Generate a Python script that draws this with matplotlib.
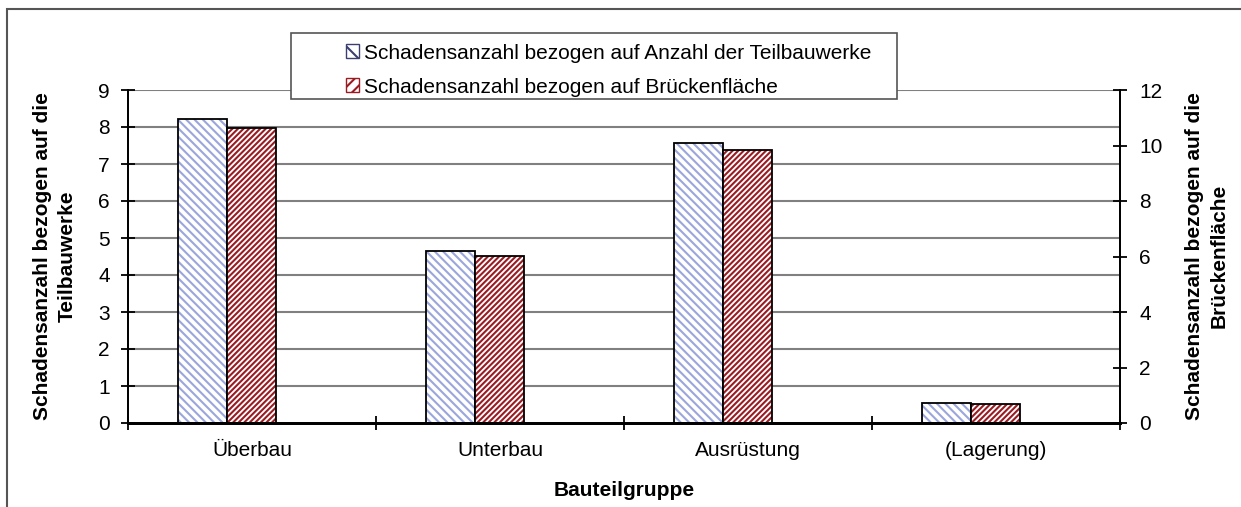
import numpy as np
import matplotlib
matplotlib.use('Agg')
import matplotlib.pyplot as plt
from matplotlib.patches import Patch, Rectangle

plt.rcParams['font.family'] = ['Liberation Sans', 'DejaVu Sans']
plt.rcParams['hatch.linewidth'] = 1.5

# data
categories = ['Überbau', 'Unterbau', 'Ausrüstung', '(Lagerung)']
per_teilbauwerk = [8.21, 4.64, 7.58, 0.54]     # left axis
per_flaeche = [10.64, 6.03, 9.82, 0.68]        # right axis
label_teil = 'Schadensanzahl bezogen auf Anzahl der Teilbauwerke'
label_flaeche = 'Schadensanzahl bezogen auf Brückenfläche'

blue = '#9aa6dc'
red = '#9b1b22'
fs = 15

W, H = 1241, 507
fig = plt.figure(figsize=(W / 100, H / 100), dpi=100)
ax = fig.add_axes([128 / W, 1 - 423 / H, 992 / W, 333 / H])
ax2 = ax.twinx()

x = np.arange(len(categories))
bw = 0.198

# hatched fill first, black outline on top
ax.bar(x - bw / 2 - 0.1, per_teilbauwerk, bw, facecolor='white', edgecolor=blue,
       hatch='\\\\\\\\', linewidth=0, zorder=2)
ax.bar(x - bw / 2 - 0.1, per_teilbauwerk, bw, fill=False, edgecolor='black',
       linewidth=1.3, zorder=3)
ax2.bar(x + bw / 2 - 0.1, per_flaeche, bw, facecolor='white', edgecolor=red,
        hatch='//////', linewidth=0, zorder=2)
ax2.bar(x + bw / 2 - 0.1, per_flaeche, bw, fill=False, edgecolor='black',
        linewidth=1.3, zorder=3)

ax.set_xlim(-0.5, len(categories) - 0.5)
ax.set_ylim(0, 9)
ax2.set_ylim(0, 12)
ax.set_yticks(range(0, 10))
ax2.set_yticks(range(0, 13, 2))

# gridlines from the left axis
for v in range(1, 10):
    ax.axhline(v, color='#808080', linewidth=1.5, zorder=1)

ax.set_xticks(x)
ax.set_xticklabels(categories, fontsize=fs)
ax.set_xticks(np.arange(-0.5, len(categories)), minor=True)
ax.tick_params(axis='x', which='major', length=0, pad=13)
ax.tick_params(axis='x', which='minor', direction='inout', length=10, width=1.3)
ax.tick_params(axis='y', direction='inout', length=10, width=1.3, labelsize=fs, pad=8)
ax2.tick_params(axis='y', direction='inout', length=10, width=1.3, labelsize=fs, pad=9)

for a in (ax, ax2):
    a.spines['top'].set_visible(False)
    a.spines['left'].set_linewidth(1.3)
    a.spines['right'].set_linewidth(1.3)
    a.spines['bottom'].set_linewidth(2.0)
ax2.patch.set_visible(False)

fig.text(55 / W, 1 - 256 / H, 'Schadensanzahl bezogen auf die\nTeilbauwerke',
         rotation=90, ha='center', va='center', fontsize=fs, fontweight='bold',
         multialignment='center', linespacing=1.35)
fig.text(1207 / W, 1 - 256 / H, 'Schadensanzahl bezogen auf die\nBrückenfläche',
         rotation=90, ha='center', va='center', fontsize=fs, fontweight='bold',
         multialignment='center', linespacing=1.35)
fig.text(624 / W, 1 - 490 / H, 'Bauteilgruppe', ha='center', va='center',
         fontsize=fs, fontweight='bold')

# legend box
fig.patches.append(Rectangle((291 / W, 1 - 99 / H), 606 / W, 66 / H,
                             transform=fig.transFigure, facecolor='white',
                             edgecolor='#555555', linewidth=1.2, zorder=5))
handles = [Patch(facecolor='white', edgecolor='#3a3f70', hatch='\\\\', label=label_teil),
           Patch(facecolor='white', edgecolor=red, hatch='///', label=label_flaeche)]
leg = fig.legend(handles=handles, loc='upper left',
                 bbox_to_anchor=(333 / W, 1 - 31 / H), frameon=False,
                 fontsize=fs, handlelength=0.65, handleheight=0.65,
                 handletextpad=0.25, labelspacing=0.72, borderpad=0.1)
leg.set_zorder(6)

# outer frame
fig.patches.append(Rectangle((7 / W, -0.1), 1.2, 1.1 - 9 / H,
                             transform=fig.transFigure, fill=False,
                             edgecolor='#555555', linewidth=1.5, zorder=0))

fig.savefig('out.png', dpi=100)
